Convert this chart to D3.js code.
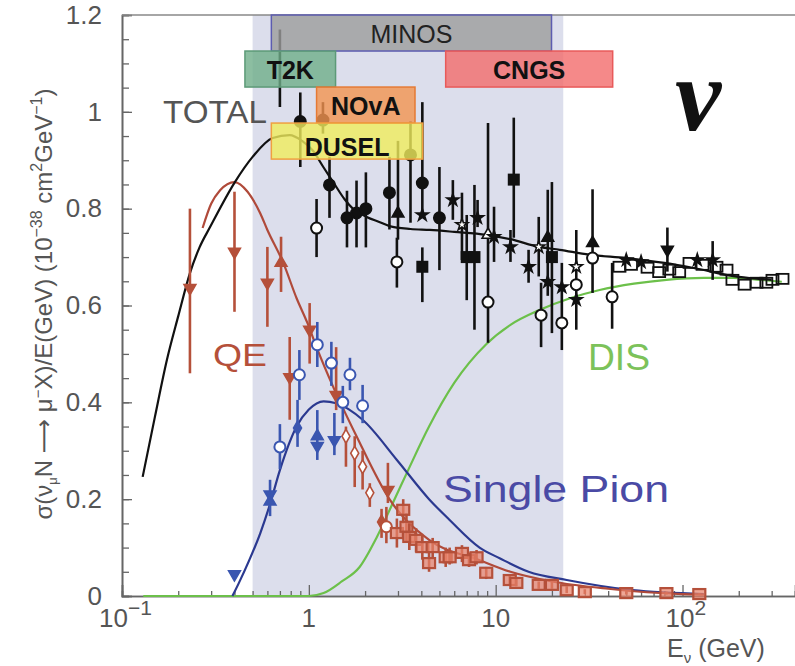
<!DOCTYPE html>
<html>
<head>
<meta charset="utf-8">
<script src="https://cdn.jsdelivr.net/npm/d3@7"></script>
<style>
  body { margin: 0; background: #fff; }
  svg { display: block; font-family: "Liberation Sans", Arial, sans-serif; }
</style>
</head>
<body>
<div class="chart"></div>
<script>
// curves: [E (GeV), sigma/E]
var totalCurve = [[0.129,0.246],[0.15,0.37],[0.174,0.488],[0.2,0.578],[0.231,0.667],[0.26,0.72],[0.296,0.762],[0.402,0.855],[0.5,0.907],[0.64,0.946],[0.79,0.952],[0.92,0.94],[1.05,0.92],[1.2,0.885],[1.35,0.855],[1.55,0.82],[1.72,0.8],[2.04,0.783],[2.4,0.772],[2.7,0.764],[3.5,0.758],[4.44,0.756],[6,0.752],[8.9,0.746],[12,0.737],[17.1,0.721],[22,0.715],[31.6,0.705],[50,0.698],[80,0.688],[113,0.678],[200,0.659],[300,0.653]]
var qeCurve = [[0.27,0.76],[0.3,0.81],[0.335,0.838],[0.4,0.855],[0.47,0.835],[0.55,0.79],[0.6,0.756],[0.73,0.688],[0.86,0.615],[0.98,0.565],[1.11,0.51],[1.35,0.432],[1.8,0.33],[2.7,0.2],[4.4,0.116],[8.2,0.074],[12,0.05],[20,0.03],[40,0.015],[100,0.004],[130,0.003]]
var pionCurve = [[0.39,0],[0.42,0.025],[0.48,0.074],[0.55,0.13],[0.62,0.19],[0.7,0.26],[0.86,0.35],[1.0,0.385],[1.2,0.402],[1.4,0.398],[1.94,0.364],[2.96,0.281],[4.4,0.2],[5.67,0.157],[8.2,0.1],[10.5,0.078],[15,0.05],[24,0.033],[54,0.012],[130,0.004]]
var disCurve = [[0.13,0],[1.0,0],[1.2,0.006],[1.5,0.03],[1.87,0.06],[2.3,0.12],[2.8,0.19],[3.4,0.26],[4.4,0.35],[6,0.44],[8.9,0.52],[12,0.56],[17,0.59],[25,0.615],[36,0.632],[55,0.645],[82,0.653],[130,0.657],[186,0.657],[260,0.653],[340,0.649]]

// data points: [E, value, errLow, errHigh, marker]
var totalPoints = [
  [0.7,null,1.01,1.17,'none'],[0.9,0.98,0.886,1.04,'fc'],[1.19,0.983,0.955,1.02,'fc'],
  [1.1,0.76,0.7,0.82,'oc'],[1.29,0.849,0.781,0.907,'fc'],[1.6,0.781,0.72,0.837,'fc'],
  [1.8,0.791,0.72,0.858,'fc'],[2.02,0.8,0.72,0.875,'fc'],[2.7,0.833,0.757,0.907,'fc'],
  [3.0,0.79,0.736,0.94,'tu'],[2.96,0.69,0.637,0.74,'oc'],[3.5,0.911,0.771,0.98,'fc'],
  [4.05,0.853,0.783,1.02,'fc'],[4.05,0.787,null,null,'st'],[4.05,0.68,0.607,0.72,'fs'],
  [5.0,0.781,0.673,0.886,'fc'],[5.9,0.818,0.777,0.859,'st'],[6.6,0.767,0.694,0.833,'ost'],
  [7.0,0.7,0.611,0.787,'fs'],[7.7,0.7,0.55,0.849,'fs'],[8.0,0.781,0.762,0.818,'st'],
  [9.1,0.746,0.523,0.977,'otu'],[9.1,0.607,null,null,'oc'],[9.8,0.742,0.69,0.804,'st'],
  [12,0.721,0.69,0.756,'st'],[12.5,0.86,0.74,0.988,'fs'],[15,0.68,0.647,0.715,'st'],
  [17,0.721,0.66,0.783,'ost'],[17.5,0.58,0.514,0.647,'oc'],[19,0.74,0.62,0.839,'tu'],
  [19,0.649,null,null,'st'],[20,0.7,0.543,0.855,'fs'],[22.6,0.564,0.508,0.688,'oc'],
  [22.6,0.638,null,null,'st'],[27,0.643,0.55,0.756,'oc'],[27,0.68,null,null,'ost'],
  [27,0.612,null,null,'st'],[33,0.729,0.626,0.84,'tu'],[33,0.698,null,null,'oc'],
  [42,0.618,0.552,0.688,'oc'],[50,0.694,null,null,'st'],[60,0.69,null,null,'st'],
  [83,0.715,0.67,0.761,'td'],[120,0.694,null,null,'st'],[145,0.694,0.653,0.733,'st']
]
var ccfrE = [46,53,65,75,85,96,109,128,152,172,185,215,249,281,303,343]
var ccfrV = [0.68,0.684,0.678,0.669,0.674,0.669,0.688,0.684,0.68,0.674,0.653,0.643,0.647,0.647,0.653,0.655]
var pionPoints = [
  [0.4,0.045,null,null,'td'],[0.62,0.21,0.165,0.24,'td'],[0.62,0.195,null,null,'tu'],
  [0.7,0.308,0.262,0.355,'oc'],[0.87,0.347,0.308,0.405,'fd'],[0.89,0.457,0.405,0.508,'oc'],
  [1.11,0.519,0.473,0.566,'oc'],[1.11,0.33,null,null,'tu'],[1.11,0.31,0.281,0.384,'td'],
  [1.32,0.481,0.434,0.525,'oc'],[1.37,0.322,0.291,0.378,'td'],[1.52,0.4,0.357,0.434,'oc'],
  [1.66,0.457,0.425,0.492,'oc'],[1.94,0.393,0.357,0.436,'oc']
]
var qePoints = [
  [0.231,0.636,0.46,0.8,'td'],[0.4,0.711,0.587,0.835,'td'],[0.6,0.647,0.556,0.721,'td'],
  [0.71,0.688,0.628,0.742,'tu'],[0.79,0.452,0.364,0.535,'td'],[1.01,0.55,0.48,0.605,'td'],
  [1.4,0.415,0.384,0.514,'td'],[1.58,0.33,0.267,0.35,'od'],[1.76,0.295,0.225,0.33,'od'],
  [1.94,0.267,0.22,0.3,'od'],[2.12,0.213,0.184,0.233,'od'],[2.45,0.153,0.12,0.18,'fd'],
  [2.65,0.219,0.192,0.275,'td'],[2.6,0.143,0.109,0.184,'oc'],[2.96,0.13,0.1,0.16,'rs'],
  [3.2,0.178,0.15,0.2,'rs'],[3.33,0.143,0.11,0.17,'rs'],[3.45,0.122,0.095,0.15,'rs'],
  [3.75,0.116,0.09,0.14,'rs'],[4.05,0.101,0.075,0.125,'rs'],[4.4,0.068,0.05,0.09,'rs'],
  [4.6,0.101,0.08,0.12,'rs'],[5.4,0.08,0.06,0.1,'rs'],[5.67,0.08,0.065,0.1,'rs'],
  [6.6,0.089,0.07,0.105,'rs'],[7.2,0.074,0.06,0.09,'rs'],[7.9,0.08,0.065,0.095,'rs'],
  [8.9,0.048,0.035,0.06,'rs'],[11.9,0.033,0.025,0.045,'rs'],[12.9,0.027,0.02,0.035,'rs'],
  [17,0.023,0.015,0.03,'rs'],[20,0.023,0.015,0.03,'rs'],[24,0.012,0.006,0.02,'rs'],
  [30,0.008,0.004,0.014,'rs'],[50,0.006,0.003,0.01,'rs'],[82,0.006,0.003,0.009,'rs'],
  [123,0.004,0.002,0.006,'rs']
]

// experiment energy coverage boxes
var experiments = ['MINOS','T2K','NOvA','DUSEL','CNGS']
var expLow = [0.63,0.455,1.1,0.63,5.4]
var expHigh = [19.9,1.39,3.7,4.07,42.3]
var expRow = [0,1,2,3,1]
var bandRange = [0.5,23]

var yTicks = [0,0.2,0.4,0.6,0.8,1,1.2]
var xTicks = [0.1,1,10,100]
var xTickBase = ['10','1','10','10']
var xTickExp = ['\u22121','','','2']

var W = 795, H = 666
var x = d3.scaleLog().domain([0.1,400]).range([122,795])
var y = d3.scaleLinear().domain([0,1.2]).range([596,15])

var svg = d3.select('.chart').append('svg').attr('width',W).attr('height',H)

// shaded band
svg.append('rect')
  .attr('x',x(bandRange[0])).attr('y',y(1.2))
  .attr('width',x(bandRange[1])-x(bandRange[0])).attr('height',y(0)-y(1.2))
  .style('fill','#dcdeec')

// axes
var minorY = d3.range(0,1.2001,0.05)
svg.append('g').attr('transform','translate(122,0)')
  .call(d3.axisLeft(y).tickValues(minorY).tickSize(-7).tickFormat(''))
svg.append('g').attr('transform','translate(122,0)')
  .call(d3.axisLeft(y).tickValues(yTicks).tickSize(-10).tickPadding(20)
    .tickFormat(function(d) { return d === 0 ? '0' : d === 1 ? '1' : d3.format('.1f')(d) }))
var minorX = []
;[0.1,1,10,100].forEach(function(dec) {
  for (var k = 2; k <= 9; k++) if (dec*k <= 400) minorX.push(dec*k)
})
svg.append('g').attr('transform','translate(0,596)')
  .call(d3.axisBottom(x).tickValues(minorX).tickSize(-5).tickFormat(''))
svg.append('g').attr('transform','translate(0,596)')
  .call(d3.axisBottom(x).tickValues(xTicks).tickSize(-11).tickFormat(''))
svg.selectAll('.domain').style('stroke','#666').style('stroke-width',1.6)
svg.selectAll('.tick line').style('stroke','#666').style('stroke-width',1.3)
svg.selectAll('.tick text').style('font-size','26px').style('fill','#555')
  .style('font-family','"Liberation Sans", Arial, sans-serif')
// top frame line
svg.append('line').attr('x1',122).attr('x2',795).attr('y1',y(1.2)).attr('y2',y(1.2))
  .style('stroke','#888').style('stroke-width',1.3)

// x tick labels with exponents
xTicks.forEach(function(t, i) {
  var tx = svg.append('text').attr('x',x(t)).attr('y',627)
    .style('font-size','26px').style('fill','#555')
    .attr('text-anchor', xTickExp[i] ? 'start' : 'middle')
  if (xTickExp[i]) {
    tx.attr('x', x(t) - (i === 0 ? 23 : 17))
    tx.append('tspan').text(xTickBase[i])
    tx.append('tspan').attr('dy',-12).style('font-size','21px').text(xTickExp[i])
  } else {
    tx.text(xTickBase[i])
  }
})
var xl = svg.append('text').attr('x',667).attr('y',657).style('font-size','25px').style('fill','#555')
xl.append('tspan').text('E')
xl.append('tspan').attr('dy',6).style('font-size','15px').text('\u03bd')
xl.append('tspan').attr('dy',-6).text(' (GeV)')

// y axis title
var yl = svg.append('text').attr('transform','translate(52,304) rotate(-90)')
  .attr('text-anchor','middle').style('font-size','24px').style('fill','#555')
yl.append('tspan').text('\u03c3(\u03bd')
yl.append('tspan').attr('dy',5).style('font-size','13px').text('\u03bc')
yl.append('tspan').attr('dy',-5).text('N ')
yl.append('tspan').style('font-family','"DejaVu Sans", sans-serif').text('\u27f6')
yl.append('tspan').text(' \u03bc')
yl.append('tspan').attr('dy',-9).style('font-size','15px').text('\u2212')
yl.append('tspan').attr('dy',9).text('X)/E(GeV)  (10')
yl.append('tspan').attr('dy',-10).style('font-size','16px').text('\u221238')
yl.append('tspan').attr('dy',10).text(' cm')
yl.append('tspan').attr('dy',-10).style('font-size','16px').text('2')
yl.append('tspan').attr('dy',10).text('GeV')
yl.append('tspan').attr('dy',-10).style('font-size','16px').text('\u22121')
yl.append('tspan').attr('dy',10).text(')')

// curves
var line = d3.line().curve(d3.curveMonotoneX)
  .x(function(d) { return x(d[0]) })
  .y(function(d) { return y(d[1]) })
var curveLayer = svg.append('g')
function addCurve(data, color) {
  curveLayer.append('path').datum(data).attr('d',line)
    .style('fill','none').style('stroke',color).style('stroke-width',2.2)
}

// markers
function drawPoints(points, color) {
  var g = svg.append('g')
  points.forEach(function(p) {
    var cx = x(p[0])
    if (p[2] != null) {
      g.append('line').attr('x1',cx).attr('x2',cx).attr('y1',y(p[2])).attr('y2',y(p[3]))
        .style('stroke',color).style('stroke-width',2.6)
    }
    if (p[1] == null || p[4] === 'none') return
    var cy = y(p[1])
    var m = p[4]
    var sym = null, rot = 0, fill = color, size = 60
    if (m === 'fc' || m === 'oc') {
      g.append('circle').attr('cx',cx).attr('cy',cy).attr('r',5.5)
        .style('fill', m === 'fc' ? color : '#fff').style('stroke',color).style('stroke-width',2)
      return
    }
    if (m === 'fs') {
      g.append('rect').attr('x',cx-6).attr('y',cy-6).attr('width',12).attr('height',12).style('fill',color)
      return
    }
    if (m === 'rs') {
      g.append('rect').attr('x',cx-6).attr('y',cy-5).attr('width',12).attr('height',10)
        .style('fill','#e8826a').style('fill-opacity',0.7).style('stroke',color).style('stroke-width',2.2)
      return
    }
    if (m === 'td') { sym = d3.symbolTriangle; rot = 180 }
    if (m === 'tu' || m === 'otu') { sym = d3.symbolTriangle }
    if (m === 'st' || m === 'ost') { sym = d3.symbolStar; size = 45 }
    if (m === 'od' || m === 'fd') { sym = d3.symbolDiamond; size = 55 }
    if (m === 'otu' || m === 'ost' || m === 'od') fill = '#fff'
    g.append('path').attr('d', d3.symbol().type(sym).size(size)())
      .attr('transform','translate(' + cx + ',' + cy + ') rotate(' + rot + ')')
      .style('fill',fill).style('stroke',color).style('stroke-width',1.6)
  })
  return g
}

addCurve(disCurve,'#6cc04a')
addCurve(pionCurve,'#2b3990')
addCurve(qeCurve,'#b04a3a')
drawPoints(qePoints,'#b5503a')
drawPoints(pionPoints,'#3a56b0')
addCurve(totalCurve,'#111')
drawPoints(totalPoints,'#111')
svg.append('g').selectAll('rect').data(ccfrE).enter().append('rect')
  .attr('x',function(d) { return x(d) - 6 })
  .attr('y',function(d, i) { return y(ccfrV[i]) - 5 })
  .attr('width',12).attr('height',10)
  .style('fill','none').style('stroke','#111').style('stroke-width',1.8)

// experiment boxes
var boxFill = ['#9c9c9c','#6fae8a','#f39350','#f0ec5c','#f26b6b']
var boxStroke = ['#5c5cb0','#5d9a78','#e57a35','#f0a040','#e85a5a']
var rowH = 0.0744
experiments.forEach(function(name, i) {
  var top = 1.2 - expRow[i]*rowH
  svg.append('rect')
    .attr('x',x(expLow[i])).attr('y',y(top))
    .attr('width',x(expHigh[i]) - x(expLow[i])).attr('height',y(top - rowH) - y(top))
    .style('fill',boxFill[i]).style('fill-opacity',0.8)
    .style('stroke',boxStroke[i]).style('stroke-width',1.5)
  svg.append('text')
    .attr('x',(x(expLow[i]) + x(expHigh[i]))/2)
    .attr('y',y(top - rowH) - (i === 3 ? 3 : 8))
    .attr('text-anchor','middle')
    .style('font-size','25px')
    .style('font-weight', i === 0 ? 'normal' : 'bold')
    .style('fill', i === 0 ? '#222' : '#111')
    .text(name)
})

// curve labels
function label(txt, px, py, size, color, len) {
  var t = svg.append('text').attr('x',px).attr('y',py).style('font-size',size + 'px')
    .style('fill',color).text(txt)
  if (len) t.attr('textLength',len).attr('lengthAdjust','spacingAndGlyphs')
}
label('TOTAL',163,123,32,'#555',104)
label('QE',213,366,31,'#b5503a',54)
label('DIS',588,370,36,'#7cc25a',62)
label('Single Pion',443,502,37,'#4a4aa5',226)
svg.append('text').attr('x',698).attr('y',130).attr('text-anchor','middle')
  .style('font-family','"Liberation Serif", "DejaVu Serif", serif')
  .style('font-style','italic').style('font-weight','bold').style('font-size','104px')
  .style('fill','#111').text('\u03bd')
</script>
</body>
</html>
